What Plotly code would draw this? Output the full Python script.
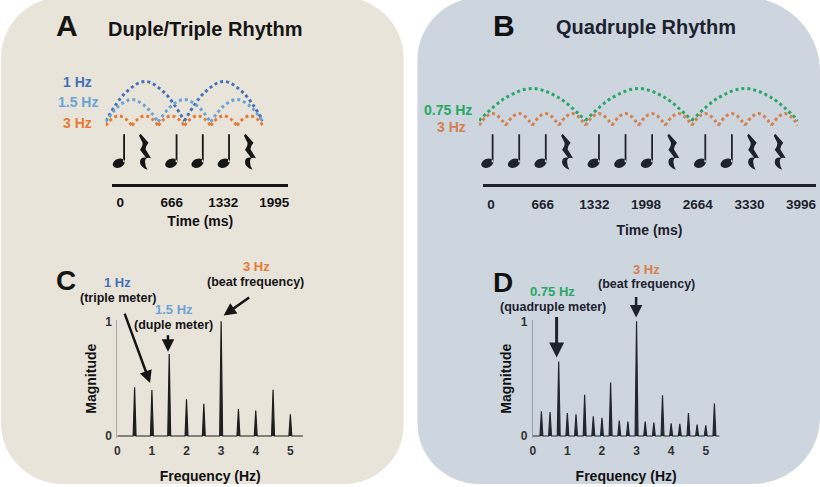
import math
import plotly.graph_objects as go

W, H = 820, 487
FONT = "Liberation Sans, Arial, Helvetica, sans-serif"

# ---------------- data ----------------
BEAT_MS = 333.3
A_DURATION = 2000
B_DURATION = 4000
A_TIME_TICKS = [0, 666, 1332, 1995]
B_TIME_TICKS = [0, 666, 1332, 1998, 2664, 3330, 3996]

A_WAVE_FREQ = [1.0, 1.5, 3.0]
A_WAVE_LABELS = ["1 Hz", "1.5 Hz", "3 Hz"]
A_WAVE_TROUGH = [0.10, 0.08, 0.0]
A_WAVE_PEAK = [1.0, 0.59, 0.22]

B_WAVE_FREQ = [0.75, 3.0]
B_WAVE_LABELS = ["0.75 Hz", "3 Hz"]
B_WAVE_TROUGH = [0.11, 0.0]
B_WAVE_PEAK = [0.84, 0.27]

# shape of one rectified arc (phase -> relative height)
ARC_PHASE = [0.0, 0.25, 0.5, 0.75, 1.0]
ARC_PROFILE = [0.0, 0.71, 1.0, 0.71, 0.0]

A_RHYTHM = ["note", "rest", "note", "note", "note", "rest"]
B_RHYTHM = ["note", "note", "note", "rest", "note", "note", "note", "rest",
            "note", "note", "rest", "rest"]

C_FREQ = [0.5, 1.0, 1.5, 2.0, 2.5, 3.0, 3.5, 4.0, 4.5, 5.0]
C_MAG = [0.426, 0.40, 0.716, 0.32, 0.282, 1.0, 0.236, 0.222, 0.404, 0.19]

D_FREQ = [0.25, 0.5, 0.75, 1.0, 1.25, 1.5, 1.75, 2.0, 2.25, 2.5, 2.75,
          3.0, 3.25, 3.5, 3.75, 4.0, 4.25, 4.5, 4.75, 5.0, 5.25]
D_MAG = [0.215, 0.21, 0.65, 0.20, 0.19, 0.36, 0.172, 0.158, 0.466, 0.135,
         0.127, 1.0, 0.127, 0.118, 0.355, 0.11, 0.106, 0.20, 0.10, 0.094, 0.284]

FREQ_TICKS = [0, 1, 2, 3, 4, 5]
MAG_TICKS = [0, 1]

# ---------------- styles ----------------
LEFT_BG = "#e8e4da"
RIGHT_BG = "#cdd5df"
INK_A = "#151515"
INK_B = "#1c222e"
BLUE1 = "#4470b8"
BLUE15 = "#6aa3d6"
ORANGE_A = "#e57a34"
ORANGE_B = "#d3814e"
GREEN = "#27a865"
A_WAVE_COLORS = [BLUE1, BLUE15, ORANGE_A]
B_WAVE_COLORS = [GREEN, ORANGE_B]


def X(px):
    return px / W


def Y(py):
    return 1 - py / H


def dom_x(p0, p1):
    return [X(p0), X(p1)]


def dom_y(top, bottom):
    return [Y(bottom), Y(top)]


def wave_xy(freq, trough, peak, duration):
    period = 1000.0 / freq
    n = int(round(duration / period))
    xs, ys = [], []
    for k in range(n):
        for ph, pr in zip(ARC_PHASE, ARC_PROFILE):
            xs.append((k + ph) * period)
            ys.append(trough + (peak - trough) * pr)
        xs.append(None)
        ys.append(None)
    return xs, ys


def spectrum_xy(freqs, mags, fmax, hw=0.042):
    xs, ys = [0], [0]
    for f, m in zip(freqs, mags):
        xs += [f - hw, f, f + hw]
        ys += [0, m, 0]
    xs.append(fmax)
    ys.append(0)
    return xs, ys


def fmt(v):
    return f"{v:.2f}"


def note_path():
    a, b, ang = 6.3, 4.4, 25
    k = 0.5523
    c, s = math.cos(math.radians(ang)), math.sin(math.radians(ang))

    def p(u, v):
        return f"{fmt(u * c - v * s)},{fmt(u * s + v * c)}"

    head = (f"M{p(a, 0)} C{p(a, k * b)} {p(k * a, b)} {p(0, b)} "
            f"C{p(-k * a, b)} {p(-a, k * b)} {p(-a, 0)} "
            f"C{p(-a, -k * b)} {p(-k * a, -b)} {p(0, -b)} "
            f"C{p(k * a, -b)} {p(a, -k * b)} {p(a, 0)} Z")
    stem = "M4.4,1 L6.2,1 L6.2,29 L4.4,29 Z"
    return head + " " + stem


def rest_path():
    return ("M-4.5,29.5 L3.5,20.5 Q0.5,17 0.5,14 L6,5 Q0.5,6.5 0,2 Q0,-3 2.5,-6.5 "
            "Q-5.5,-3.5 -5,1.5 Q-4.5,6.5 1,5.5 L-5,13.5 Q-2,17.5 -2.5,20.5 L-6,27.5 Z")


def rounded_rect(x0, y0, x1, y1, rtl, rtr, rbr, rbl):
    k = 0.5523
    pts = []
    pts.append(f"M{X(x0 + rtl)},{Y(y0)}")
    pts.append(f"L{X(x1 - rtr)},{Y(y0)}")
    pts.append(f"C{X(x1 - rtr + k * rtr)},{Y(y0)} {X(x1)},{Y(y0 + rtr - k * rtr)} {X(x1)},{Y(y0 + rtr)}")
    pts.append(f"L{X(x1)},{Y(y1 - rbr)}")
    pts.append(f"C{X(x1)},{Y(y1 - rbr + k * rbr)} {X(x1 - rbr + k * rbr)},{Y(y1)} {X(x1 - rbr)},{Y(y1)}")
    pts.append(f"L{X(x0 + rbl)},{Y(y1)}")
    pts.append(f"C{X(x0 + rbl - k * rbl)},{Y(y1)} {X(x0)},{Y(y1 - rbl + k * rbl)} {X(x0)},{Y(y1 - rbl)}")
    pts.append(f"L{X(x0)},{Y(y0 + rtl)}")
    pts.append(f"C{X(x0)},{Y(y0 + rtl - k * rtl)} {X(x0 + rtl - k * rtl)},{Y(y0)} {X(x0 + rtl)},{Y(y0)} Z")
    return " ".join(pts)


fig = go.Figure()

# ---- time-domain waves ----
for f, tr, pk, col in zip(A_WAVE_FREQ, A_WAVE_TROUGH, A_WAVE_PEAK, A_WAVE_COLORS):
    xs, ys = wave_xy(f, tr, pk, A_DURATION)
    fig.add_trace(go.Scatter(x=xs, y=ys, xaxis="x", yaxis="y", mode="lines",
                             line=dict(color=col, width=3, dash="dot", shape="spline"),
                             hoverinfo="skip", connectgaps=False))
for f, tr, pk, col in zip(B_WAVE_FREQ, B_WAVE_TROUGH, B_WAVE_PEAK, B_WAVE_COLORS):
    xs, ys = wave_xy(f, tr, pk, B_DURATION)
    fig.add_trace(go.Scatter(x=xs, y=ys, xaxis="x3", yaxis="y3", mode="lines",
                             line=dict(color=col, width=3, dash="dot", shape="spline"),
                             hoverinfo="skip", connectgaps=False))

# invisible traces to activate time axes
fig.add_trace(go.Scatter(x=[A_TIME_TICKS[0]], y=[0], xaxis="x2", yaxis="y2", mode="markers",
                         marker=dict(opacity=0), hoverinfo="skip"))
fig.add_trace(go.Scatter(x=[B_TIME_TICKS[0]], y=[0], xaxis="x4", yaxis="y4", mode="markers",
                         marker=dict(opacity=0), hoverinfo="skip"))

# ---- spectra ----
C_FMAX, D_FMAX = 5.37, 5.4
xs, ys = spectrum_xy(C_FREQ, C_MAG, C_FMAX)
fig.add_trace(go.Scatter(x=xs, y=ys, xaxis="x5", yaxis="y5", mode="lines",
                         line=dict(color="#1e1e1e", width=1.2), fill="tozeroy",
                         fillcolor="#1e1e1e", hoverinfo="skip"))
xs, ys = spectrum_xy(D_FREQ, D_MAG, D_FMAX)
fig.add_trace(go.Scatter(x=xs, y=ys, xaxis="x6", yaxis="y6", mode="lines",
                         line=dict(color="#22262e", width=1.2), fill="tozeroy",
                         fillcolor="#22262e", hoverinfo="skip"))

shapes = [
    dict(type="path", xref="paper", yref="paper", layer="below", line_width=0,
         fillcolor=LEFT_BG, path=rounded_rect(-2, -8, 403, 489, 62, 62, 60, 62)),
    dict(type="path", xref="paper", yref="paper", layer="below", line_width=0,
         fillcolor=RIGHT_BG, path=rounded_rect(417, -8, 822, 489, 64, 76, 68, 62)),
]

NOTE_Y = -0.856
A_NOTE_OFFSET = 0.5
B_NOTE_OFFSET = 0.31
for i, sym in enumerate(A_RHYTHM):
    shapes.append(dict(type="path", xref="x", yref="y", xsizemode="pixel", ysizemode="pixel",
                       xanchor=(i + A_NOTE_OFFSET) * BEAT_MS, yanchor=NOTE_Y,
                       path=note_path() if sym == "note" else rest_path(),
                       fillcolor=INK_A, line_width=0))
for i, sym in enumerate(B_RHYTHM):
    shapes.append(dict(type="path", xref="x3", yref="y3", xsizemode="pixel", ysizemode="pixel",
                       xanchor=(i + B_NOTE_OFFSET) * BEAT_MS, yanchor=NOTE_Y,
                       path=note_path() if sym == "note" else rest_path(),
                       fillcolor=INK_B, line_width=0))


def txt(x, y, text, size, color, xanchor="center"):
    return dict(x=X(x), y=Y(y), xref="paper", yref="paper", text=f"<b>{text}</b>",
                showarrow=False, font=dict(size=size, color=color, family=FONT),
                xanchor=xanchor, yanchor="middle")


def arrow(tail, head, width, color):
    return dict(x=X(head[0]), y=Y(head[1]), xref="paper", yref="paper",
                ax=tail[0] - head[0], ay=tail[1] - head[1], text="", showarrow=True,
                arrowhead=2, arrowsize=1, arrowwidth=width, arrowcolor=color, standoff=0)


ann = [
    txt(64, 21, "A", 30, INK_A),
    txt(203, 24, "Duple/Triple Rhythm", 20, INK_A),
    txt(504, 21, "B", 30, "#111111"),
    txt(647, 22, "Quadruple Rhythm", 20, INK_B),
    txt(75, 79, A_WAVE_LABELS[0], 14, BLUE1),
    txt(75, 99, A_WAVE_LABELS[1], 14, BLUE15),
    txt(75, 120, A_WAVE_LABELS[2], 14, ORANGE_A),
    txt(448, 107, B_WAVE_LABELS[0], 14, GREEN),
    txt(451, 125, B_WAVE_LABELS[1], 14, ORANGE_B),
    txt(63, 281, "C", 28, INK_A),
    txt(503, 283, "D", 28, "#111111"),
    txt(115, 283, "1 Hz", 13, BLUE1),
    txt(116, 299, "(triple meter)", 12.5, INK_A),
    txt(172, 311, "1.5 Hz", 13, BLUE15),
    txt(172, 327, "(duple meter)", 12.5, INK_A),
    txt(255, 267, "3 Hz", 13, ORANGE_A),
    txt(254, 283, "(beat frequency)", 12.5, INK_A),
    txt(553, 292, "0.75 Hz", 13, GREEN),
    txt(553, 308, "(quadruple meter)", 12.5, INK_B),
    txt(647, 270, "3 Hz", 13, ORANGE_B),
    txt(647, 285, "(beat frequency)", 12.5, INK_B),
    arrow((122, 315), (148, 386), 2.5, INK_A),
    arrow((166, 336), (166, 354), 2.5, INK_A),
    arrow((249, 298), (222, 317), 2.5, INK_A),
    arrow((557, 318), (557, 360), 3, INK_B),
    arrow((637, 297), (637, 319), 2.5, INK_B),
]

bold_tick = dict(size=13.5, color="#111111", family=FONT)
spec_tick = dict(size=12, color="#333333", family=FONT)
title_font = dict(size=14, color="#111111", family=FONT)


# y-scale for wave panels: 0 at px 123, 1 unit = 45 px
def wave_yrange(top_px, bottom_px):
    return [(123 - bottom_px) / 45.0, (123 - top_px) / 45.0]


hidden = dict(visible=False, showgrid=False, zeroline=False, fixedrange=True)

layout = dict(
    width=W, height=H, margin=dict(l=0, r=0, t=0, b=0),
    paper_bgcolor="white", plot_bgcolor="rgba(0,0,0,0)", showlegend=False,
    font=dict(family=FONT),
    shapes=shapes, annotations=ann,
    xaxis=dict(domain=dom_x(103.3, 261.7), range=[0, A_DURATION], anchor="y", **hidden),
    yaxis=dict(domain=dom_y(60, 175), range=wave_yrange(60, 175), anchor="x", **hidden),
    xaxis3=dict(domain=dom_x(479, 800), range=[0, B_DURATION], anchor="y3", **hidden),
    yaxis3=dict(domain=dom_y(60, 175), range=wave_yrange(60, 175), anchor="x3", **hidden),
    xaxis2=dict(domain=dom_x(110, 287), range=[-103, 2175], anchor="y2",
                showline=True, linewidth=3, linecolor=INK_A, showgrid=False, zeroline=False,
                tickvals=A_TIME_TICKS, ticktext=[f"<b>{v}</b>" for v in A_TIME_TICKS],
                ticks="outside", ticklen=4, tickcolor="rgba(0,0,0,0)", tickfont=bold_tick,
                title=dict(text="<b>Time (ms)</b>", font=title_font, standoff=7)),
    yaxis2=dict(domain=dom_y(150, 183), range=[0, 1], anchor="x2", **hidden),
    xaxis4=dict(domain=dom_x(483, 818), range=[-102.5, 4188], anchor="y4",
                showline=True, linewidth=3, linecolor=INK_B, showgrid=False, zeroline=False,
                tickvals=B_TIME_TICKS, ticktext=[f"<b>{v}</b>" for v in B_TIME_TICKS],
                ticks="outside", ticklen=6, tickcolor="rgba(0,0,0,0)",
                tickfont=dict(size=13.5, color=INK_B, family=FONT),
                title=dict(text="<b>Time (ms)</b>", font=dict(size=14, color=INK_B, family=FONT),
                           standoff=14)),
    yaxis4=dict(domain=dom_y(150, 183), range=[0, 1], anchor="x4", **hidden),
    xaxis5=dict(domain=dom_x(115, 302), range=[0, C_FMAX], anchor="y5",
                showline=False, showgrid=False, zeroline=False,
                tickvals=FREQ_TICKS, ticktext=[f"<b>{v}</b>" for v in FREQ_TICKS],
                ticks="outside", ticklen=2, tickcolor="rgba(0,0,0,0)", tickfont=spec_tick,
                title=dict(text="<b>Frequency (Hz)</b>", font=title_font, standoff=14)),
    yaxis5=dict(domain=dom_y(321.2, 441.8), range=[-0.015, 1.015], anchor="x5",
                showline=True, linewidth=1, linecolor="#a8a8a8", showgrid=False, zeroline=False,
                tickvals=MAG_TICKS, ticktext=[f"<b>{v}</b>" for v in MAG_TICKS],
                ticks="outside", ticklen=2, tickcolor="rgba(0,0,0,0)", tickfont=spec_tick,
                title=dict(text="<b>Magnitude</b>", font=title_font, standoff=5)),
    xaxis6=dict(domain=dom_x(533, 721), range=[0, D_FMAX], anchor="y6",
                showline=False, showgrid=False, zeroline=False,
                tickvals=FREQ_TICKS, ticktext=[f"<b>{v}</b>" for v in FREQ_TICKS],
                ticks="outside", ticklen=2, tickcolor="rgba(0,0,0,0)", tickfont=spec_tick,
                title=dict(text="<b>Frequency (Hz)</b>", font=title_font, standoff=14)),
    yaxis6=dict(domain=dom_y(321.2, 441.8), range=[-0.015, 1.015], anchor="x6",
                showline=True, linewidth=1, linecolor="#9aa0a8", showgrid=False, zeroline=False,
                tickvals=MAG_TICKS, ticktext=[f"<b>{v}</b>" for v in MAG_TICKS],
                ticks="outside", ticklen=2, tickcolor="rgba(0,0,0,0)", tickfont=spec_tick,
                title=dict(text="<b>Magnitude</b>", font=title_font, standoff=5)),
)
fig.update_layout(**layout)
fig.write_html("out.html", config={"displayModeBar": False, "staticPlot": True},
               post_script="document.body.style.margin='0px';document.body.style.overflow='hidden';")
